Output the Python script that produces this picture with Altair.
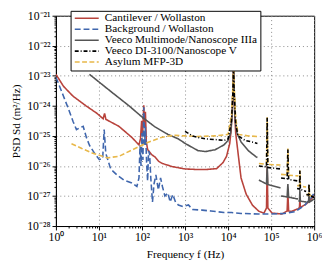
import altair as alt
import pandas as pd

FONT = "Liberation Serif"

series_names = [
    "Cantilever / Wollaston",
    "Background / Wollaston",
    "Veeco Multimode/Nanoscope IIIa",
    "Veeco DI-3100/Nanoscope V",
    "Asylum MFP-3D",
]
series_colors = ["#B8433C", "#3F66AD", "#555555", "#000000", "#E8B84A"]
series_dashes = [[1, 0], [6, 3], [1, 0], [4, 2, 1, 2], [5, 2.5]]
series_widths = [1.6, 1.6, 1.0, 2.0, 1.8]

# ---- Cantilever / Wollaston (log10 PSD) ----
cant_f = [1, 1.5, 2.5, 5, 9, 12.5, 13.5, 14.5, 29, 58, 85, 92, 98, 103, 110, 115,
          120, 126, 135, 166, 200, 245, 300, 500, 1000, 2000, 3000, 5400, 7600,
          9200, 10900, 11800, 12600, 13100, 13400, 13700, 14200, 15000, 17400,
          20000, 26300, 37000, 52000, 68000, 78000, 81000, 84000, 105000, 178000,
          235000, 245000, 255000, 300000, 430000, 455000, 466000, 478000, 660000,
          860000, 1000000]
cant_lp = [-22.95, -23.35, -23.68, -24.0, -24.25, -24.43, -24.25, -24.45, -24.68,
           -25.05, -25.3, -25.1, -24.5, -25.0, -23.98, -24.7, -24.2, -25.2, -25.45,
           -25.62, -25.7, -25.85, -25.92, -26.02, -26.1, -26.12, -26.12, -26.09,
           -25.89, -25.68, -25.26, -24.8, -24.0, -23.2, -22.6, -23.3, -24.2, -24.9,
           -25.68, -26.4, -26.94, -27.31, -27.51, -27.57, -27.4, -26.0, -27.4,
           -27.57, -27.6, -27.5, -26.88, -27.5, -27.51, -27.42, -27.38, -27.1,
           -27.38, -27.26, -27.1, -26.97]

# ---- Background / Wollaston ----
back_f = [1, 1.15, 1.5, 1.95, 2.5, 3.0, 3.6, 4.3, 5.1, 6.0, 7.9, 10.2, 12.2, 13.2,
          14.4, 18.7, 26.6, 37.7, 58, 76, 85, 90, 95, 100, 105, 110, 115, 120, 128,
          135, 142, 150, 160, 175, 190, 210, 240, 270, 300, 340, 400, 450, 520, 600,
          700, 900, 1200, 1500, 2500, 4000, 8000, 12000, 20000, 50000, 100000,
          200000, 360000, 600000, 860000, 1000000]
back_lp = [-23.05, -23.26, -23.68, -24.1, -24.52, -24.79, -24.73, -24.68, -25.05,
           -25.31, -25.58, -25.79, -25.75, -24.79, -25.58, -26.1, -26.31, -26.47,
           -26.57, -26.68, -26.4, -25.3, -26.0, -24.9, -25.8, -24.05, -25.3, -24.7,
           -25.9, -26.5, -25.5, -25.6, -26.4, -27.2, -26.6, -26.3, -26.8, -26.4,
           -26.7, -27.0, -26.9, -27.2, -26.95, -27.2, -27.3, -27.35, -27.3, -27.45,
           -27.47, -27.5, -27.55, -27.55, -27.58, -27.6, -27.6, -27.58, -27.52,
           -27.31, -27.05, -26.9]

# ---- Veeco Multimode / Nanoscope IIIa (bands) ----
mm_f = [
    [6, 20, 50, 100, 200, 400, 700, 1000, 2000, 3000, 5000, 8000, 10000, 11500,
     12500, 13000, 13400, 13800, 14500, 16000, 20000, 30000, 45000, 48000],
    [52000, 78000, 81000, 84000, 165000],
    [170000, 235000, 245000, 255000, 420000],
    [430000, 455000, 466000, 478000, 650000],
    [660000, 740000, 760000, 780000, 1000000],
]
mm_lp = [
    [-22.95, -23.55, -24.0, -24.37, -24.7, -24.95, -25.1, -25.25, -25.49, -25.52,
     -25.46, -25.3, -25.15, -24.9, -24.2, -23.4, -22.6, -23.4, -24.4, -24.9, -25.2,
     -25.5, -25.7, -25.72],
    [-26.47, -26.6, -26.0, -26.62, -26.73],
    [-27.0, -27.03, -26.6, -27.04, -27.1],
    [-27.15, -27.17, -26.8, -27.17, -27.2],
    [-27.2, -27.2, -26.9, -27.2, -27.1],
]

# ---- Veeco DI-3100 / Nanoscope V (bands) ----
di_f = [
    [1000, 1500, 2000, 3000, 5000, 8000, 10000, 12000, 13000, 13400, 13800, 15000,
     17000, 25000, 35000, 48000],
    [52000, 78000, 81000, 84000, 165000],
    [170000, 235000, 245000, 255000, 420000],
    [400000, 455000, 466000, 478000, 650000],
    [660000, 740000, 760000, 780000, 1000000],
]
di_lp = [
    [-24.85, -25.0, -25.05, -25.1, -25.12, -25.15, -25.1, -24.5, -23.5, -22.6,
     -23.5, -24.6, -25.0, -25.15, -25.2, -25.25],
    [-26.0, -26.03, -24.4, -26.05, -26.1],
    [-26.4, -26.43, -25.45, -26.45, -26.5],
    [-26.75, -26.77, -26.15, -26.78, -26.85],
    [-26.95, -26.97, -26.6, -26.98, -27.05],
]

# ---- Asylum MFP-3D (bands) ----
asy_f = [
    [2.3, 4, 7.2, 15.8, 29, 58, 140, 280, 425, 600, 1000, 2000, 5000, 10000, 12000,
     13000, 13400, 13800, 15000, 17000, 30000, 48000],
    [52000, 78000, 81000, 84000, 165000],
    [170000, 235000, 245000, 255000, 430000],
    [400000, 455000, 466000, 478000, 650000],
    [660000, 740000, 760000, 780000, 1000000],
]
asy_lp = [
    [-25.26, -25.42, -25.58, -25.73, -25.68, -25.47, -25.21, -25.05, -25.0, -24.98,
     -25.0, -25.02, -25.0, -24.95, -24.3, -23.3, -22.55, -23.3, -24.4, -24.95,
     -25.0, -25.02],
    [-25.92, -25.94, -24.38, -25.95, -25.97],
    [-26.28, -26.3, -25.42, -26.31, -26.33],
    [-26.65, -26.67, -26.15, -26.68, -26.7],
    [-26.95, -26.97, -26.6, -26.98, -27.0],
]

x_exps = [0, 1, 2, 3, 4, 5, 6]
y_exps = [-28, -27, -26, -25, -24, -23, -22, -21]

# ---------------- table ----------------
rows = []


def add(name, seg, fs, lps):
    for i, (f, l) in enumerate(zip(fs, lps)):
        rows.append({"series": name, "seg": f"{name}-{seg}", "f": f,
                     "psd": 10.0 ** l, "idx": i})


add(series_names[0], 0, cant_f, cant_lp)
add(series_names[1], 0, back_f, back_lp)
for k, (fs, ls) in enumerate(zip(mm_f, mm_lp)):
    add(series_names[2], k, fs, ls)
for k, (fs, ls) in enumerate(zip(di_f, di_lp)):
    add(series_names[3], k, fs, ls)
for k, (fs, ls) in enumerate(zip(asy_f, asy_lp)):
    add(series_names[4], k, fs, ls)
df = pd.DataFrame(rows)

# ---------------- axes ----------------
IS_DEC = "abs(log(datum.value)/LN10 - round(log(datum.value)/LN10)) < 0.01"
SUP = str.maketrans("0123456789-", "⁰¹²³⁴⁵⁶⁷⁸⁹⁻")


def label_expr(exps):
    e = "round(log(datum.value)/LN10)"
    expr = "''"
    for k in reversed(exps):
        expr = f"({IS_DEC} && {e} == {k}) ? '10{str(k).translate(SUP)}' : ({expr})"
    return expr


x_vals = [m * 10.0 ** k for k in x_exps[:-1] for m in range(1, 10)] + [10.0 ** x_exps[-1]]
y_vals = [m * 10.0 ** k for k in y_exps[:-1] for m in range(1, 10)] + [10.0 ** y_exps[-1]]

grid_op = {"condition": {"test": IS_DEC, "value": 1}, "value": 0}
tick_sz = {"condition": {"test": IS_DEC, "value": 4}, "value": 2}

X = alt.X("f:Q", scale=alt.Scale(type="log", domain=[1, 1e6], nice=False),
          axis=alt.Axis(values=x_vals, labelExpr=label_expr(x_exps),
                        title="Frequency f (Hz)", gridOpacity=grid_op,
                        tickSize=tick_sz, labelOverlap=False, labelFlush=False,
                        labelPadding=2, titlePadding=6))
Y = alt.Y("psd:Q", scale=alt.Scale(type="log", domain=[1e-28, 1e-21], nice=False),
          axis=alt.Axis(values=y_vals, labelExpr=label_expr(y_exps),
                        title="PSD Sd (m²/Hz)", gridOpacity=grid_op,
                        tickSize=tick_sz, labelOverlap=False, labelFlush=False,
                        labelPadding=2, titlePadding=5))

leg = alt.Legend(title=None, orient="none", legendX=15, legendY=-5,
                 strokeColor="black", fillColor="white", padding=3,
                 clipHeight=9.2, rowPadding=-1.8, symbolType="stroke",
                 symbolSize=600, labelLimit=400, labelOffset=5)

C = alt.Color("series:N", scale=alt.Scale(domain=series_names, range=series_colors), legend=leg)
D = alt.StrokeDash("series:N", scale=alt.Scale(domain=series_names, range=series_dashes), legend=leg)
W = alt.StrokeWidth("series:N", scale=alt.Scale(domain=series_names, range=series_widths), legend=leg)

draw_order = [0, 1, 2, 4, 3]
layers = []
for i in draw_order:
    layers.append(
        alt.Chart(df)
        .transform_filter(alt.datum.series == series_names[i])
        .mark_line(clip=True)
        .encode(x=X, y=Y, color=C, strokeDash=D, strokeWidth=W,
                detail="seg:N", order="idx:Q")
    )

chart = (
    alt.layer(*layers)
    .properties(width=264, height=215, autosize="none",
                padding={"left": 49, "top": 5, "right": 8, "bottom": 40})
    .configure_axis(labelFont=FONT, titleFont=FONT, labelFontSize=12,
                    titleFontSize=11.5, titleFontWeight="normal",
                    labelColor="black", titleColor="black", domainColor="black",
                    tickColor="black", gridColor="#888888", gridDash=[1, 3])
    .configure_legend(labelFont=FONT, labelFontSize=11.5, labelColor="black")
    .configure_view(stroke="black", strokeWidth=1)
)

chart.save("out.html", embed_options={"renderer": "svg", "actions": False})
